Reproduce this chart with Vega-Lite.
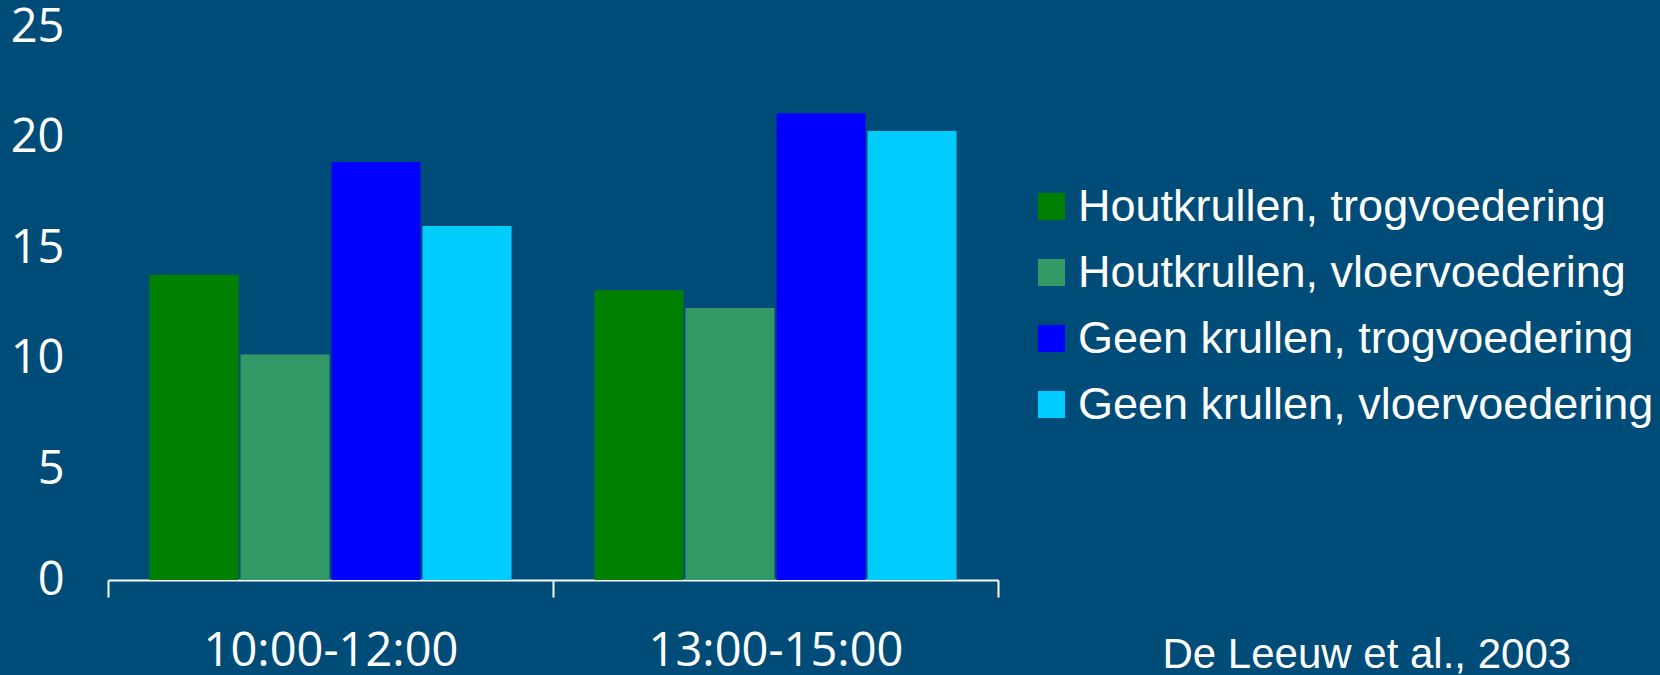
{
  "$schema": "https://vega.github.io/schema/vega-lite/v6.json",
  "width": 890,
  "height": 553,
  "autosize": {"type": "none"},
  "padding": {"left": 108, "top": 27, "right": 662, "bottom": 95},
  "background": "#004C78",
  "config": {"view": {"stroke": null}},
  "data": {
    "values": [
      {"periode": "10:00-12:00", "groep": "Houtkrullen, trogvoedering", "waarde": 13.8},
      {"periode": "10:00-12:00", "groep": "Houtkrullen, vloervoedering", "waarde": 10.2},
      {"periode": "10:00-12:00", "groep": "Geen krullen, trogvoedering", "waarde": 18.9},
      {"periode": "10:00-12:00", "groep": "Geen krullen, vloervoedering", "waarde": 16.0},
      {"periode": "13:00-15:00", "groep": "Houtkrullen, trogvoedering", "waarde": 13.1},
      {"periode": "13:00-15:00", "groep": "Houtkrullen, vloervoedering", "waarde": 12.3},
      {"periode": "13:00-15:00", "groep": "Geen krullen, trogvoedering", "waarde": 21.1},
      {"periode": "13:00-15:00", "groep": "Geen krullen, vloervoedering", "waarde": 20.3}
    ]
  },
  "mark": {"type": "bar", "strokeWidth": 0},
  "encoding": {
    "x": {
      "field": "periode",
      "type": "nominal",
      "scale": {"paddingInner": 0, "paddingOuter": 0},
      "axis": {
        "title": "De Leeuw et al., 2003",
        "titleX": 1054,
        "titleY": 87,
        "titleAlign": "left",
        "titleBaseline": "alphabetic",
        "titleFont": "Liberation Sans",
        "titleFontSize": 42,
        "titleFontWeight": "normal",
        "titleColor": "white",
        "labelAngle": 0,
        "labelFont": "Open Sans",
        "labelFontSize": 47,
        "labelColor": "white",
        "labelPadding": 31,
        "labelLimit": 500,
        "ticks": true,
        "tickBand": "extent",
        "tickSize": 17,
        "tickWidth": 2,
        "tickColor": "white",
        "domainColor": "white",
        "domainWidth": 2
      }
    },
    "xOffset": {
      "field": "groep",
      "type": "nominal",
      "sort": ["Houtkrullen, trogvoedering", "Houtkrullen, vloervoedering", "Geen krullen, trogvoedering", "Geen krullen, vloervoedering"],
      "scale": {"paddingInner": 0.022, "paddingOuter": 0.456}
    },
    "y": {
      "field": "waarde",
      "type": "quantitative",
      "scale": {"domain": [0, 25], "nice": false},
      "axis": {
        "title": null,
        "values": [0, 5, 10, 15, 20, 25],
        "domain": false,
        "ticks": false,
        "grid": false,
        "labelFont": "Open Sans",
        "labelFontSize": 47,
        "labelColor": "white",
        "labelPadding": 44
      }
    },
    "color": {
      "field": "groep",
      "type": "nominal",
      "scale": {
        "domain": ["Houtkrullen, trogvoedering", "Houtkrullen, vloervoedering", "Geen krullen, trogvoedering", "Geen krullen, vloervoedering"],
        "range": ["#008000", "#339966", "#0000FF", "#00CCFF"]
      },
      "legend": {
        "title": null,
        "orient": "none",
        "legendX": 921,
        "legendY": 157,
        "padding": 0,
        "symbolType": "square",
        "symbolSize": 729,
        "symbolStrokeWidth": 0,
        "symbolOpacity": 1,
        "labelFont": "Liberation Sans",
        "labelFontSize": 45,
        "labelColor": "white",
        "labelOffset": 4,
        "labelLimit": 700,
        "rowPadding": 20
      }
    }
  }
}
